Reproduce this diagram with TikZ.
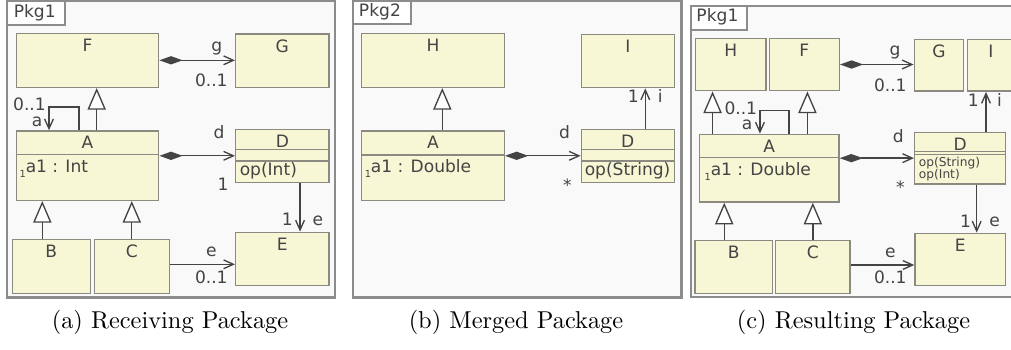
\documentclass[tikz,border=0pt]{standalone}
\usepackage{fontspec}
\usepackage{tikz}
\usetikzlibrary{shapes, arrows.meta, fit, calc}
\newfontfamily\umlfont{DejaVu Sans}
\definecolor{clsfill}{RGB}{247,247,213}
\definecolor{clsdraw}{RGB}{138,138,128}
\definecolor{pkgfill}{RGB}{249,249,249}
\definecolor{pkgdraw}{RGB}{140,140,140}
\definecolor{umltext}{RGB}{68,68,68}
\tikzstyle{pkg} = [rectangle, draw=pkgdraw, fill=pkgfill, line width=0.9pt, inner sep=0pt]
\tikzstyle{pkgtab} = [rectangle, draw=pkgdraw, fill=white, line width=0.7pt, inner sep=0pt]
\tikzstyle{cls} = [rectangle, draw=clsdraw, fill=clsfill, line width=0.6pt, inner sep=0pt]
\tikzstyle{cname} = [anchor=north, inner sep=2.35pt, text=umltext]
\tikzstyle{divider} = [draw=clsdraw, line width=0.6pt]
\tikzstyle{lbl} = [inner sep=0pt, text=umltext]
\tikzstyle{small} = [font=\umlfont\fontsize{5pt}{6pt}\selectfont]
\tikzstyle{line} = [draw=umltext, line width=0.55pt]
\tikzstyle{comp} = [line, {Diamond[length=9.5pt,width=3.4pt]}-{Straight Barb[length=4pt,width=3.6pt]}]
\tikzstyle{assoc} = [line, -{Straight Barb[length=4pt,width=3.6pt]}]
\tikzstyle{gen} = [line, -{Triangle[open,fill=white,length=8.9pt,width=7.5pt]}]
\newcommand{\vis}{\raisebox{-2pt}{\fontsize{4pt}{4pt}\selectfont 1}}

\begin{document}
\begin{tikzpicture}[x=0.41pt, y=-0.41pt]
\tikzstyle{every node}=[font=\umlfont\fontsize{7pt}{8.4pt}\selectfont]
\useasboundingbox (0,0) rectangle (1011,349);

% (a) receiving package
\node[pkg, fit={(7.3,1) (335,297.5)}] (pa) {};
\node[pkgtab, fit={(7.3,1) (64.7,24.7)}] (pa-tab) {};
\node[lbl, anchor=west] (pa-name) at (13.3,12.5) {Pkg1};
\node[cls, fit={(16.3,33.3) (158.7,87.3)}, label={[cname]north:F}] (aF) {};
\node[cls, fit={(235.7,34) (329,87.7)}, label={[cname]north:G}] (aG) {};
\node[cls, fit={(16.3,131) (158.7,200.3)}, label={[cname]north:A}] (aA) {};
\path[divider] ($(aA.north west)+(0,24)$) -- ($(aA.north east)+(0,24)$);
\node[lbl, anchor=base west] (aA-attr) at ($(aA.north west)+(3.5,42.3)$) {\vis a1 : Int};
\node[cls, fit={(235.7,129.3) (329,182.3)}, label={[cname]north:D}] (aD) {};
\path[divider] ($(aD.north west)+(0,20.7)$) -- ($(aD.north east)+(0,20.7)$);
\path[divider] ($(aD.north west)+(0,32.4)$) -- ($(aD.north east)+(0,32.4)$);
\node[lbl, anchor=base west] (aD-op) at ($(aD.north west)+(4.3,47.4)$) {op(Int)};
\node[cls, fit={(235.7,232.3) (329,285.7)}, label={[cname]north:E}] (aE) {};
\node[cls, fit={(12.3,239.3) (90.3,293.3)}, label={[cname]north:B}] (aB) {};
\node[cls, fit={(94.3,239.3) (169.3,293.3)}, label={[cname]north:C}] (aC) {};

\coordinate (aAs) at ($(aA.north)+(-8.5,0)$);
\path[assoc] (aAs) -- ++(0,-23.3) -| ($(aA.north)+(-38.5,0)$);
\coordinate (aAF) at ($(aA.north)+(9.2,0)$);
\path[gen] (aAF) -- (aAF |- aF.south);
\path[comp] (aF.east) -- (aF.east -| aG.west);
\path[comp] (aA.east |- aD.west) -- (aD.west);
\coordinate (aDE) at ($(aD.south)+(17.7,0)$);
\path[assoc] (aDE) -- (aDE |- aE.north);
\coordinate (aBA) at ($(aB.north)+(-9,0)$);
\path[gen] (aBA) -- (aBA |- aA.south);
\path[gen] (aC.north) -- (aC.north |- aA.south);
\coordinate (aCE) at ($(aC.east)+(0,-2)$);
\path[assoc] (aCE) -- (aCE -| aE.west);

\node[lbl] (aFG-r) at (216.7,48.5) {g};
\node[lbl] (aFG-m) at (211.3,80.5) {0..1};
\node[lbl] (aAA-m) at (29.5,104.5) {0..1};
\node[lbl] (aAA-r) at (37,122.3) {a};
\node[lbl] (aAD-r) at (219,132.5) {d};
\node[lbl] (aAD-m) at (223,184.2) {1};
\node[lbl] (aDE-m) at (287.3,219) {1};
\node[lbl] (aDE-r) at (318,220.8) {e};
\node[lbl] (aCE-r) at (211.3,251.7) {e};
\node[lbl] (aCE-m) at (211.3,277.2) {0..1};

% (b) merged package
\node[pkg, fit={(353.3,1) (681.5,297.5)}] (pb) {};
\node[pkgtab, fit={(353.3,1) (410.7,24.3)}] (pb-tab) {};
\node[lbl, anchor=west] (pb-name) at (358.5,12.1) {Pkg2};
\node[cls, fit={(361.7,33.3) (504.3,87.3)}, label={[cname]north:H}] (bH) {};
\node[cls, fit={(581.3,34.3) (674.3,87.7)}, label={[cname]north:I}] (bI) {};
\node[cls, fit={(361.7,131) (504.3,200.3)}, label={[cname]north:A}] (bA) {};
\path[divider] ($(bA.north west)+(0,24.7)$) -- ($(bA.north east)+(0,24.7)$);
\node[lbl, anchor=base west] (bA-attr) at ($(bA.north west)+(3.3,42.3)$) {\vis a1 : Double};
\node[cls, fit={(581.3,129.3) (674.3,182.3)}, label={[cname]north:D}] (bD) {};
\path[divider] ($(bD.north west)+(0,20.7)$) -- ($(bD.north east)+(0,20.7)$);
\path[divider] ($(bD.north west)+(0,32.4)$) -- ($(bD.north east)+(0,32.4)$);
\node[lbl, anchor=base west] (bD-op) at ($(bD.north west)+(3.7,47.4)$) {op(String)};

\coordinate (bAH) at ($(bA.north)+(9.3,0)$);
\path[gen] (bAH) -- (bAH |- bH.south);
\path[comp] (bA.east |- bD.west) -- (bD.west);
\coordinate (bDI) at ($(bD.north)+(17.5,0)$);
\path[assoc] (bDI) -- (bDI |- bI.south);

\node[lbl] (bAD-r) at (564.5,132.5) {d};
\node[lbl] (bAD-m) at (567.3,185) {*};
\node[lbl] (bDI-m) at (633.2,96.2) {1};
\node[lbl] (bDI-r) at (660.3,96) {i};

% (c) resulting package
\node[pkg, fit={(690.7,5.7) (1030,296.7)}] (pc) {};
\node[pkgtab, fit={(690.7,5.7) (746.7,30)}] (pc-tab) {};
\node[lbl, anchor=west] (pc-name) at (696,17.1) {Pkg1};
\node[cls, fit={(695.7,38.3) (766,90.7)}, label={[cname]north:H}] (cH) {};
\node[cls, fit={(769.3,38.3) (839.3,90.7)}, label={[cname]north:F}] (cF) {};
\node[cls, fit={(914.3,39.3) (963.5,91.2)}, label={[cname]north:G}] (cG) {};
\node[cls, fit={(967.3,39.3) (1030,91.2)}] (cI) {};
\node[cname, anchor=north] (cI-name) at (991,39.3) {I};
\node[cls, fit={(699.3,134.3) (839,202)}, label={[cname]north:A}] (cA) {};
\path[divider] ($(cA.north west)+(0,24)$) -- ($(cA.north east)+(0,24)$);
\node[lbl, anchor=base west] (cA-attr) at ($(cA.north west)+(5.5,41.7)$) {\vis a1 : Double};
\node[cls, fit={(914.7,132.3) (1005.7,184)}, label={[cname]north:D}] (cD) {};
\path[divider] ($(cD.north west)+(0,20)$) -- ($(cD.north east)+(0,20)$);
\path[divider] ($(cD.north west)+(0,22.7)$) -- ($(cD.north east)+(0,22.7)$);
\node[lbl, small, anchor=base west] (cD-op1) at ($(cD.north west)+(4.5,35)$) {op(String)};
\node[lbl, small, anchor=base west] (cD-op2) at ($(cD.north west)+(4.5,47)$) {op(Int)};
\node[cls, fit={(915,233.3) (1005.7,285.7)}, label={[cname]north:E}] (cE) {};
\node[cls, fit={(695,240.7) (772.3,293.3)}, label={[cname]north:B}] (cB) {};
\node[cls, fit={(775.7,240.7) (850,293.3)}, label={[cname]north:C}] (cC) {};

\coordinate (cAH) at ($(cA.north west)+(14,0)$);
\path[gen] (cAH) -- (cAH |- cH.south);
\coordinate (cAF) at ($(cA.north east)+(-32.3,0)$);
\path[gen] (cAF) -- (cAF |- cF.south);
\coordinate (cAs) at ($(cA.north)+(19.8,0)$);
\path[assoc] (cAs) -- ++(0,-23.3) -| ($(cA.north)+(-9.2,0)$);
\path[comp] (cF.east) -- (cF.east -| cG.west);
\path[comp] (cA.east |- cD.west) -- (cD.west);
\coordinate (cDI) at ($(cD.north)+(25.8,0)$);
\path[assoc] (cDI) -- (cDI |- cI.south);
\coordinate (cDE) at ($(cD.south)+(16.5,0)$);
\path[assoc] (cDE) -- (cDE |- cE.north);
\coordinate (cBA) at ($(cB.north)+(-9.4,0)$);
\path[gen] (cBA) -- (cBA |- cA.south);
\path[gen] (cC.north) -- (cC.north |- cA.south);
\coordinate (cCE) at ($(cC.east)+(0,-2)$);
\path[assoc] (cCE) -- (cCE -| cE.west);

\node[lbl] (cAA-m) at (740.8,108.3) {0..1};
\node[lbl] (cAA-r) at (747.2,125.3) {a};
\node[lbl] (cFG-r) at (895,52.5) {g};
\node[lbl] (cFG-m) at (890.3,84.8) {0..1};
\node[lbl] (cDI-m) at (973.3,100.2) {1};
\node[lbl] (cDI-r) at (999.5,100) {i};
\node[lbl] (cAD-r) at (898.3,135.8) {d};
\node[lbl] (cAD-m) at (900.3,187) {*};
\node[lbl] (cDE-m) at (965.5,220.8) {1};
\node[lbl] (cDE-r) at (994.7,222) {e};
\node[lbl] (cCE-r) at (890.3,253.3) {e};
\node[lbl] (cCE-m) at (890.3,277.5) {0..1};

% captions
\node[font=\normalfont] (cap-a) at (170,322) {(a) Receiving Package};
\node[font=\normalfont] (cap-b) at (516,322) {(b) Merged Package};
\node[font=\normalfont] (cap-c) at (853.5,322) {(c) Resulting Package};
\end{tikzpicture}
\end{document}
